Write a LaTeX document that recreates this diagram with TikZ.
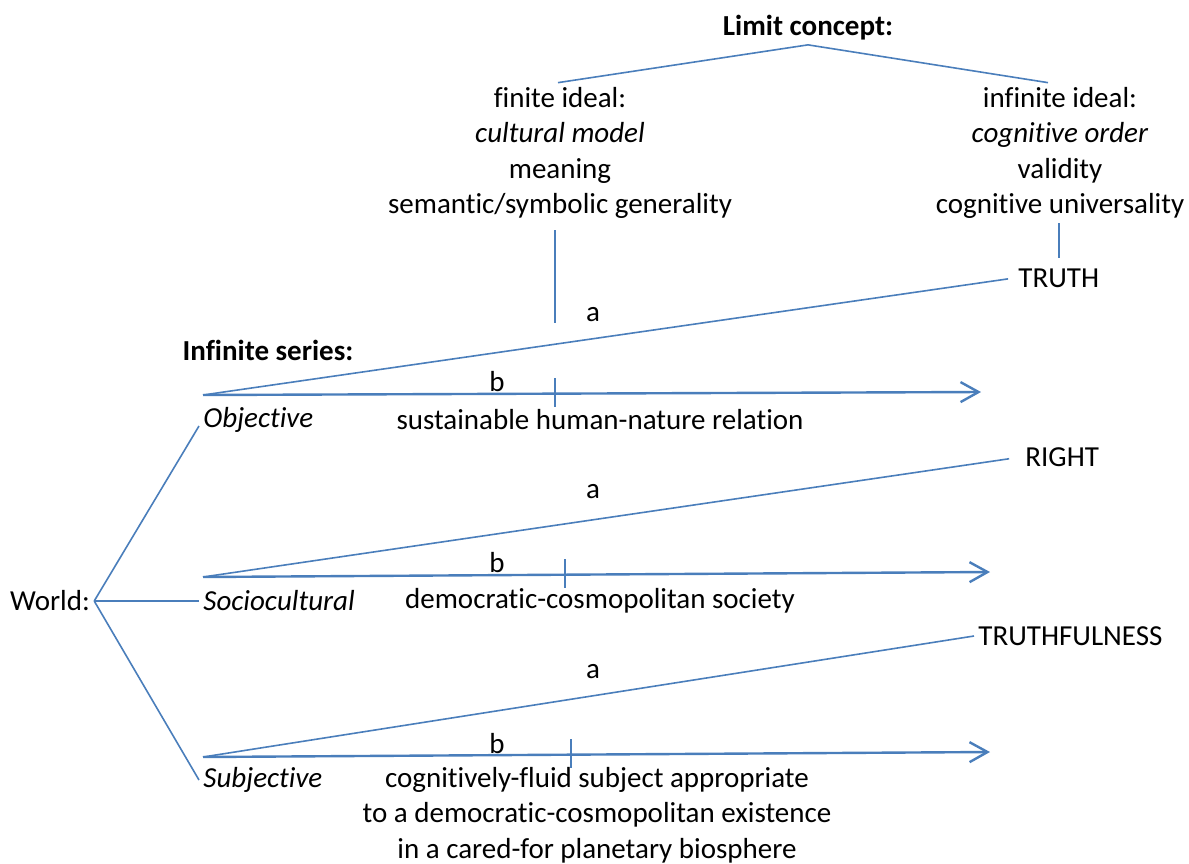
\documentclass[tikz,border=0pt]{standalone}
\usepackage{fontspec}
\setmainfont{Carlito}[Ligatures=NoCommon]
\usetikzlibrary{arrows.meta}
\definecolor{lnblue}{HTML}{4A7EBB}
\tikzset{
  txt/.style={font=\fontsize{14.5}{17.8}\selectfont, inner sep=2pt},
  ln/.style={draw=lnblue, line width=0.8pt},
  series/.style={draw=lnblue, line width=1.2pt, -{Straight Barb[length=9pt,width=10pt,line width=1.2pt]}},
}
\begin{document}
\begin{tikzpicture}[x=0.5pt,y=-0.5pt]
\useasboundingbox (0,0) rectangle (1189,863);
% limit concept
\node[txt] (limit) at (808,28) {\textbf{Limit concept:}};
\node[txt,align=center] (finite) at (560,153) {finite ideal:\\\textit{cultural model}\\meaning\\semantic/symbolic generality};
\node[txt,align=center] (infinite) at (1060,153) {infinite ideal:\\\textit{cognitive order}\\validity\\cognitive universality};
\draw[ln] ([xshift=-1pt]finite.north) -- (limit.south) -- ([xshift=-6pt]infinite.north);
% infinite series
\node[txt] (series) at (268,350) {\textbf{Infinite series:}};
\coordinate (o1) at (203,395);
\coordinate (o2) at (203,577);
\coordinate (o3) at (203,757);
\coordinate (e1) at (981,392);
\coordinate (e2) at (990,572);
\coordinate (e3) at (990,752);
\coordinate (t1) at (555,393);
\coordinate (t2) at (565,574);
\coordinate (t3) at (571,754);
\node[txt,anchor=west] (truth) at (1014,278) {TRUTH};
\node[txt,anchor=west] (right) at (1021,457) {RIGHT};
\node[txt,anchor=west] (truthful) at (974,636) {TRUTHFULNESS};
\draw[ln,shorten >=3pt] (o1) -- (truth.west);
\draw[ln,shorten >=6pt] (o2) -- (right.west);
\draw[ln] (o3) -- (truthful.west);
\draw[series] (o1) -- (e1);
\draw[series] (o2) -- (e2);
\draw[series] (o3) -- (e3);
\foreach \t in {t1,t2,t3}
  \draw[ln] ([yshift=7.5pt]\t) -- ([yshift=-7pt]\t);
\draw[ln] ([yshift=-3.5pt]finite.south -| t1) -- ([yshift=35pt]t1);
\draw[ln,shorten >=3pt] (infinite.south -| truth.north) -- (truth.north);
\node[txt] (a1) at (593,315) {a};
\node[txt] (b1) at (497,382) {b};
\node[txt] (a2) at (593,492) {a};
\node[txt] (b2) at (497,563) {b};
\node[txt] (a3) at (593,672) {a};
\node[txt] (b3) at (497,744) {b};
% world
\node[txt] (world) at (50,601) {World:};
\node[txt,anchor=west] (obj) at (199,420) {\textit{Objective}};
\node[txt,anchor=west] (soc) at (199,601) {\textit{Sociocultural}};
\node[txt,anchor=west] (subj) at (199,780) {\textit{Subjective}};
\draw[ln] (world.east) -- ([yshift=-3pt]obj.west);
\draw[ln] (world.east) -- (soc.west);
\draw[ln] (world.east) -- (subj.west);
\node[txt] (objgoal) at (600,420) {sustainable human-nature relation};
\node[txt] (socgoal) at (600,601) {democratic-cosmopolitan society};
\node[txt,align=center] (subjgoal) at (597,815) {cognitively-fluid subject appropriate\\to a democratic-cosmopolitan existence\\in a cared-for planetary biosphere};
\end{tikzpicture}
\end{document}
